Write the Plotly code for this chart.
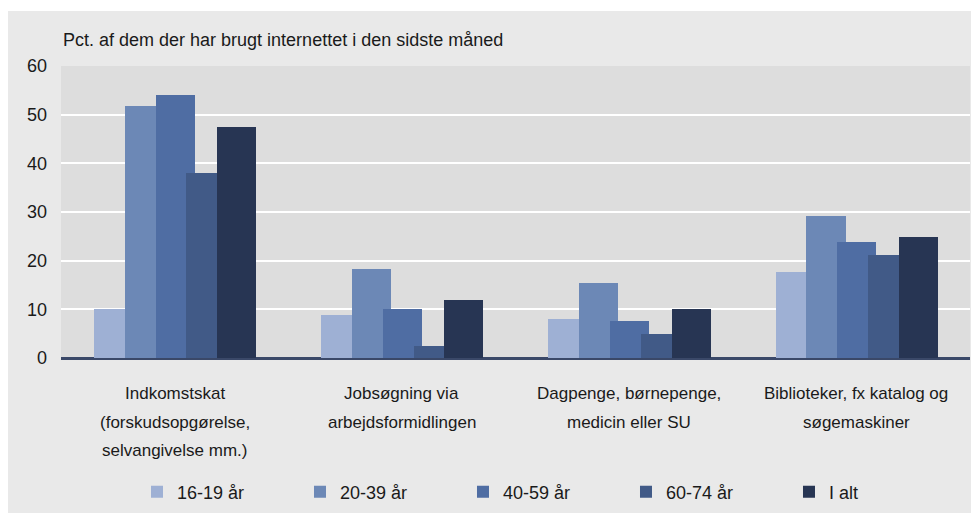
import plotly.graph_objects as go

categories = ["Indkomstskat", "Jobsøgning", "Dagpenge", "Biblioteker"]
category_label_lines = [
    ["Indkomstskat", "(forskudsopgørelse,", "selvangivelse mm.)"],
    ["Jobsøgning via", "arbejdsformidlingen"],
    ["Dagpenge, børnepenge,", "medicin eller SU"],
    ["Biblioteker, fx katalog og", "søgemaskiner"],
]
series_names = ["16-19 år", "20-39 år", "40-59 år", "60-74 år", "I alt"]
values_16_19 = [10.1, 8.8, 8.0, 17.7]
values_20_39 = [51.7, 18.3, 15.4, 29.2]
values_40_59 = [54.0, 10.1, 7.6, 23.8]
values_60_74 = [38.0, 2.5, 4.9, 21.1]
values_i_alt = [47.4, 11.9, 10.1, 24.8]
series_values = [values_16_19, values_20_39, values_40_59, values_60_74, values_i_alt]
colors = ["#9eb0d4", "#6c88b6", "#4f6da3", "#415a87", "#273553"]
y_ticks = [0, 10, 20, 30, 40, 50, 60]
title_text = "Pct. af dem der har brugt internettet i den sidste måned"

FONT = "Liberation Sans, Arial, sans-serif"
TXT = "#1a1a1a"

fig = go.Figure()
for i, (name, vals, col) in enumerate(zip(series_names, series_values, colors)):
    fig.add_trace(go.Bar(
        x=categories, y=vals, name=name,
        marker=dict(color=col, line=dict(width=0)),
        width=0.172, offset=-0.355 + i * 0.1355,
    ))

annotations = [dict(
    text=title_text, xref="paper", yref="paper", x=0, y=1,
    xanchor="left", yanchor="middle", yshift=26, showarrow=False,
    font=dict(family=FONT, size=18, color=TXT),
)]
line_offsets = [35, 64, 92]
for cat, lines in zip(categories, category_label_lines):
    for j, ln in enumerate(lines):
        annotations.append(dict(
            text=ln, xref="x", yref="paper", x=cat, y=0,
            xanchor="center", yanchor="middle", yshift=-line_offsets[j],
            showarrow=False, font=dict(family=FONT, size=17, color=TXT),
        ))

shapes = [
    dict(type="rect", xref="paper", yref="paper", xsizemode="pixel", ysizemode="pixel",
         xanchor=0, yanchor=1, x0=-60, x1=1000, y0=55, y1=62,
         fillcolor="white", line=dict(width=0), layer="above"),
]

fig.update_layout(
    width=971, height=513,
    margin=dict(l=53, r=9, t=58, b=163),
    paper_bgcolor="#e9e9e9", plot_bgcolor="#dddddd",
    barmode="overlay", bargap=0,
    font=dict(family=FONT, size=18, color=TXT),
    showlegend=True,
    legend=dict(
        orientation="h", x=0.0836, xanchor="left", y=-0.459, yanchor="middle",
        entrywidth=118, entrywidthmode="pixels",
        font=dict(family=FONT, size=18, color=TXT),
        bgcolor="rgba(0,0,0,0)", traceorder="normal",
    ),
    xaxis=dict(
        range=[-0.5, 3.5], showticklabels=False, showgrid=False, ticks="",
        zeroline=False, showline=False, fixedrange=True,
    ),
    yaxis=dict(
        range=[0, 60], tickvals=y_ticks, showgrid=True, gridcolor="white", gridwidth=2,
        zeroline=True, zerolinecolor="#3a4868", zerolinewidth=3,
        ticks="", ticklabelstandoff=13, showline=False,
        tickfont=dict(family=FONT, size=18, color=TXT),
    ),
    annotations=annotations, shapes=shapes,
)

fig.write_html("out.html")
